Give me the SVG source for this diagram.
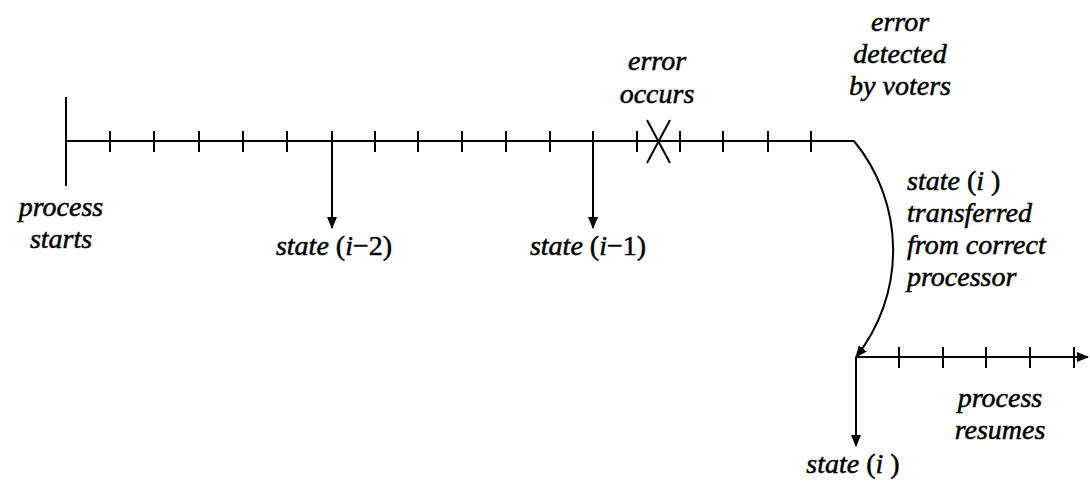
<svg xmlns="http://www.w3.org/2000/svg" width="1090" height="481" viewBox="0 0 1090 481">
<style>
.ln{stroke:#000;stroke-width:2;fill:none}
.tk{stroke:#000;stroke-width:2}
text{font-family:"Liberation Serif","Times New Roman",serif;font-size:28px;font-style:italic;fill:#000;stroke:#000;stroke-width:0.5}
.c{text-anchor:middle}
.u{font-style:normal}
</style>
<defs>
<marker id="ah" markerWidth="12" markerHeight="10" refX="11" refY="5" orient="auto" markerUnits="userSpaceOnUse">
<path d="M0,0 L12,5 L0,10 Z" fill="#000"/>
</marker>
</defs>
<g id="timeline1">
<line class="ln" x1="66" y1="141" x2="854" y2="141"/>
<line class="ln" x1="66" y1="97" x2="66" y2="186"/>
<g class="tk">
<line x1="110" y1="131" x2="110" y2="152"/>
<line x1="154" y1="131" x2="154" y2="152"/>
<line x1="199" y1="131" x2="199" y2="152"/>
<line x1="243" y1="131" x2="243" y2="152"/>
<line x1="287" y1="131" x2="287" y2="152"/>
<line x1="332" y1="131" x2="332" y2="141"/>
<line x1="375" y1="131" x2="375" y2="152"/>
<line x1="418" y1="131" x2="418" y2="152"/>
<line x1="462" y1="131" x2="462" y2="152"/>
<line x1="506" y1="131" x2="506" y2="152"/>
<line x1="550" y1="131" x2="550" y2="152"/>
<line x1="593" y1="131" x2="593" y2="141"/>
<line x1="637" y1="131" x2="637" y2="152"/>
<line x1="680" y1="131" x2="680" y2="152"/>
<line x1="723" y1="131" x2="723" y2="152"/>
<line x1="768" y1="131" x2="768" y2="152"/>
<line x1="811" y1="131" x2="811" y2="152"/>
</g>
</g>
<g id="error-mark">
<line class="ln" x1="647" y1="120" x2="670" y2="163"/>
<line class="ln" x1="670" y1="120" x2="647" y2="163"/>
</g>
<g id="timeline2">
<line class="ln" x1="856" y1="357" x2="1088" y2="357" marker-end="url(#ah)"/>
<g class="tk">
<line x1="899" y1="347" x2="899" y2="368"/>
<line x1="943" y1="347" x2="943" y2="368"/>
<line x1="986" y1="347" x2="986" y2="368"/>
<line x1="1030" y1="347" x2="1030" y2="368"/>
<line x1="1074" y1="347" x2="1074" y2="368"/>
</g>
</g>
<g id="connectors">
<line class="ln" x1="332" y1="141" x2="332" y2="228" marker-end="url(#ah)"/>
<line class="ln" x1="593" y1="141" x2="593" y2="228" marker-end="url(#ah)"/>
<path class="ln" d="M854,141 A172,172 0 0 1 856,357" marker-end="url(#ah)"/>
<line class="ln" x1="856" y1="357" x2="856" y2="446" marker-end="url(#ah)"/>
</g>
<g id="label-process-starts">
<text class="c" x="61" y="216">process</text>
<text class="c" x="61" y="248">starts</text>
</g>
<g id="label-state-i-2">
<text class="c" x="334" y="255">state <tspan class="u">(</tspan>i<tspan class="u">−2)</tspan></text>
</g>
<g id="label-state-i-1">
<text class="c" x="588" y="255">state <tspan class="u">(</tspan>i<tspan class="u">−1)</tspan></text>
</g>
<g id="label-error-occurs">
<text class="c" x="657" y="70">error</text>
<text class="c" x="657" y="103">occurs</text>
</g>
<g id="label-error-detected">
<text class="c" x="900" y="31">error</text>
<text class="c" x="900" y="63">detected</text>
<text class="c" x="900" y="95">by voters</text>
</g>
<g id="label-transfer">
<text x="907" y="190">state <tspan class="u">(</tspan>i <tspan class="u">)</tspan></text>
<text x="907" y="222">transferred</text>
<text x="907" y="254">from correct</text>
<text x="907" y="286">processor</text>
</g>
<g id="label-process-resumes">
<text class="c" x="1000" y="407">process</text>
<text class="c" x="1000" y="439">resumes</text>
</g>
<g id="label-state-i">
<text class="c" x="853" y="473">state <tspan class="u">(</tspan>i <tspan class="u">)</tspan></text>
</g>
</svg>
